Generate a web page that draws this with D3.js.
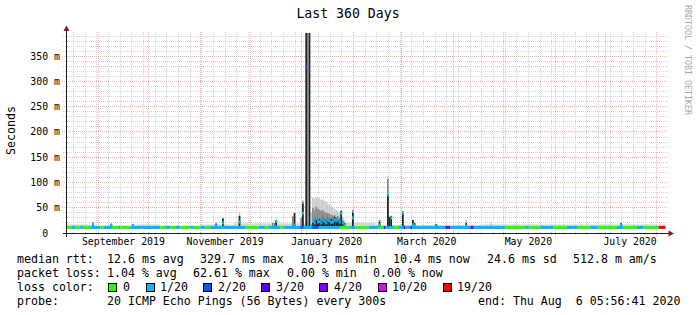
<!DOCTYPE html>
<html><head><meta charset="utf-8">
<script src="https://cdn.jsdelivr.net/npm/d3@7/dist/d3.min.js"></script>
<style>
html,body{margin:0;padding:0;background:#fff;}
svg{display:block;}
text{font-family:"DejaVu Sans Mono","Liberation Mono",monospace;white-space:pre;fill:#000;}
</style></head><body>
<svg id="chart" width="697" height="315" xml:space="preserve"></svg>
<script>
// ---------------- data ----------------
const chartTitle = "Last 360 Days";
const unitLabel = "Seconds";
const watermark = "RRDTOOL / TOBI OETIKER";
const startTime = new Date(2019, 7, 13, 4, 0, 0);
const endTime = new Date(2020, 7, 7, 4, 0, 0);
const yMaxMs = 396;
const yLabelValuesMs = [0, 50, 100, 150, 200, 250, 300, 350];
const yLabelTexts = ["0  ", "50 m", "100 m", "150 m", "200 m", "250 m", "300 m", "350 m"];
const yMinorStepMs = 10;
const lossLabels = ["0", "1/20", "2/20", "3/20", "4/20", "10/20", "19/20"];
const lossColors = ["#26ff00", "#00b8ff", "#0059ff", "#5e00ff", "#7e00ff", "#dd00ff", "#ff0000"];
const baselineMedianMs = 11;
// [startDay, lossIndex]
const lossSegments = [
  [0,0],[3,1],[5,0],[8,1],[10,0],[14,1],[20,0],[22,1],[27,0],[31,1],[32,0],[38,1],
  [56,0],[59,1],[62,0],[65,1],[68,0],[74,1],[76,0],[80,1],[83,0],[86,1],[107,0],
  [115,1],[119,0],[121,1],[128,0],[130,1],[140,2],[142,1],[147,2],[151,1],[164,0],
  [170,1],[173,0],[181,1],[187,0],[190,3],[191,1],[196,0],[199,1],[202,3],[203,1],
  [206,4],[207,1],[227,4],[230,1],[242,3],[244,1],[263,0],[275,1],[277,0],[284,1],
  [292,0],[300,1],[306,0],[314,1],[318,0],[330,1],[334,0],[342,1],[346,0],[355,6]
];
const dataEndDay = 359;
// baseline smoke [startDay, endDay, topMs]
const baseSmoke = [
  [0,14,17],[14,38,15],[38,56,17],[56,80,15],[80,100,17],[100,147,19],
  [147,166,16],[166,185,20],[185,250,16],[250,300,17],[300,359,17]
];
// spikes [day, medianMs, darkTopMs, midTopMs, lightTopMs, lossIndex]
const spikes = [
  [15,18,20,0,0,1],[26,16,18,0,0,1],[39,15,17,0,0,1],[71,11,14,0,0,0],
  [89,14,19,0,0,1],[93,20,28,30,0,1],[103,22,34,0,40,1],
  [123,null,0,20,0,1],[124,13,0,20,0,1],[125,23,26,0,0,1],
  [135,null,0,33,0,1],[136,16,40,0,0,1],
  [140,null,0,30,0,1],[141,39,58,64,0,1],
  [143,329,396,0,0,2],[144,null,0,396,0,1],[145,null,396,0,0,1],
  [146,14,0,0,40,1],[147,23,26,50,70,1],[148,20,24,46,68,1],[149,28,30,52,70,1],
  [150,22,26,48,70,1],[151,23,28,46,68,1],[152,20,24,44,66,1],[153,26,30,45,66,1],
  [154,23,27,42,64,1],[155,20,25,40,62,1],[156,26,30,40,58,1],[157,24,28,38,56,1],
  [158,21,28,36,54,1],[159,22,26,34,50,1],[160,26,32,36,48,1],[161,24,28,32,46,1],
  [162,27,30,34,44,1],[163,22,26,30,40,1],[164,39,44,0,46,1],[165,20,24,0,32,1],
  [166,16,20,0,26,1],
  [171,30,40,46,0,1],[187,16,22,26,0,1],
  [192,76,74,106,112,1],[193,null,32,0,0,1],[194,30,34,0,0,1],
  [201,40,40,0,44,1],[207,16,26,0,0,1],[208,14,20,0,0,1],
  [221,14,18,0,0,1],[239,14,20,0,26,1],[254,12,0,0,20,1],[332,16,20,0,0,1]
];
const statsMedian = ["median rtt:", "12.6 ms avg", "329.7 ms max", "10.3 ms min", "10.4 ms now", "24.6 ms sd", "512.8 m am/s"];
const statsLoss = ["packet loss:", "1.04 % avg", "62.61 % max", "0.00 % min", "0.00 % now"];
const lossColorTitle = "loss color:";
const probeRow = ["probe:", "20 ICMP Echo Pings (56 Bytes) every 300s", "end: Thu Aug  6 05:56:41 2020"];

// ---------------- layout ----------------
const L = 67, R = 667, T = 33, B = 233;
const svg = d3.select("#chart");
const x = d3.scaleTime().domain([startTime, endTime]).range([L, R]);
const y = d3.scaleLinear().domain([0, yMaxMs]).range([B, T]).clamp(true);
const dayDate = d => new Date(+startTime + d * 864e5);
const xd = d => x(dayDate(d));
const snap = v => Math.floor(v) + 0.5;

const minorCol = "#d4d4d4", majorCol = "#ebb2b2";
const grid = svg.append("g");
// horizontal grid
const minorY = d3.range(0, yMaxMs, yMinorStepMs).filter(v => !yLabelValuesMs.includes(v));
grid.selectAll(".hmin").data(minorY).join("line")
  .attr("x1", 63).attr("x2", 668).attr("y1", d => snap(y(d))).attr("y2", d => snap(y(d)))
  .attr("stroke", minorCol).attr("stroke-dasharray", "1,1");
// vertical minor (weekly)
const weeks = d3.timeSaturday.range(startTime, endTime);
grid.selectAll(".vmin").data(weeks).join("line")
  .attr("x1", d => snap(x(d))).attr("x2", d => snap(x(d))).attr("y1", 32).attr("y2", 236)
  .attr("stroke", minorCol).attr("stroke-dasharray", "1,1");
// major
grid.selectAll(".hmaj").data(yLabelValuesMs.filter(v => v > 0)).join("line")
  .attr("x1", 62).attr("x2", 668).attr("y1", d => snap(y(d))).attr("y2", d => snap(y(d)))
  .attr("stroke", majorCol).attr("stroke-dasharray", "1,1");
const months = d3.timeMonth.range(startTime, endTime);
grid.selectAll(".vmaj").data(months).join("line")
  .attr("x1", d => snap(x(d))).attr("x2", d => snap(x(d))).attr("y1", 32).attr("y2", 237)
  .attr("stroke", majorCol).attr("stroke-dasharray", "1,1");

// baseline smoke
const plot = svg.append("g");
plot.selectAll(".bs").data(baseSmoke).join("rect")
  .attr("x", d => xd(d[0])).attr("width", d => xd(d[1]) - xd(d[0]))
  .attr("y", d => y(d[2])).attr("height", d => y(9) - y(d[2]))
  .attr("fill", "#d6d6d6");
// spike smoke layers
const bw = d => Math.max(1.7, xd(d[0] + 1) - xd(d[0]));
[[4, "#cccccc"], [3, "#8a8a8a"], [2, "#262626"]].forEach(([k, col]) => {
  plot.selectAll(".s" + k).data(spikes.filter(d => d[k] > 0)).join("rect")
    .attr("x", d => xd(d[0])).attr("width", bw)
    .attr("y", d => y(d[k])).attr("height", d => y(12.5) - y(d[k]))
    .attr("fill", col);
});
// baseline median line coloured by loss
const segs = lossSegments.map((s, i) => [s[0], i + 1 < lossSegments.length ? lossSegments[i + 1][0] : dataEndDay, s[1]]);
plot.selectAll(".med").data(segs).join("rect")
  .attr("x", d => xd(d[0])).attr("width", d => xd(d[1]) - xd(d[0]))
  .attr("y", y(baselineMedianMs) - 1.5).attr("height", 3)
  .attr("fill", d => lossColors[d[2]]);
// spike medians
plot.selectAll(".smed").data(spikes.filter(d => d[1] !== null)).join("rect")
  .attr("x", d => xd(d[0])).attr("width", d => Math.max(2, bw(d)))
  .attr("y", d => y(d[1]) - 1.5).attr("height", 3)
  .attr("fill", d => lossColors[d[5]]);

// axes
const axisCol = "#1f1f1f", arrowCol = "#8b1a1a";
svg.append("line").attr("x1", 63).attr("x2", 670).attr("y1", 233.5).attr("y2", 233.5).attr("stroke", axisCol);
svg.append("line").attr("x1", 66.5).attr("x2", 66.5).attr("y1", 237).attr("y2", 30).attr("stroke", axisCol);
svg.append("path").attr("d", "M63.5,31L69.5,31L66.5,25.5Z").attr("fill", arrowCol);
svg.append("path").attr("d", "M668.5,230.5L668.5,236.5L674,233.5Z").attr("fill", arrowCol);

// y labels
svg.selectAll(".yl").data(yLabelValuesMs).join("text")
  .attr("x", 60).attr("y", d => snap(y(d)) + 3.6).attr("text-anchor", "end")
  .style("font-size", "9.85px").text((d, i) => yLabelTexts[i]);
// x labels: every second month, centred mid-month
const labelMonths = d3.timeMonth.every(2).range(startTime, endTime);
svg.selectAll(".xl").data(labelMonths).join("text")
  .attr("x", d => x(d3.timeDay.offset(d, 15))).attr("y", 245).attr("text-anchor", "middle")
  .style("font-size", "9.85px").text(d => d3.timeFormat("%B %Y")(d));

// title, unit, watermark
svg.append("text").attr("x", 348).attr("y", 18).attr("text-anchor", "middle")
  .style("font-size", "13.2px").text(chartTitle);
svg.append("text").attr("transform", "translate(15,130.5) rotate(-90)").attr("text-anchor", "middle")
  .style("font-size", "11.6px").text(unitLabel);
svg.append("text").attr("transform", "translate(685,5) rotate(90)")
  .style("font-size", "8.3px").style("fill", "#a8a8a8").text(watermark);

// legend
const lg = svg.append("g").style("font-size", "11.6px");
const row = (texts, xs, yy) => texts.forEach((t, i) => lg.append("text").attr("x", xs[i]).attr("y", yy).text(t));
row(statsMedian, [17, 107, 200, 300, 393, 487, 573], 263);
row(statsLoss, [17, 107, 193, 287, 373], 277);
lg.append("text").attr("x", 17).attr("y", 291).text(lossColorTitle);
const boxX = [108, 146, 203, 261, 319, 378, 443];
const labX = [123, 160, 218, 276, 334, 392, 457];
lossLabels.forEach((t, i) => {
  lg.append("rect").attr("x", boxX[i] + 0.5).attr("y", 283.5).attr("width", 8).attr("height", 8)
    .attr("fill", lossColors[i]).attr("stroke", "#000");
  lg.append("text").attr("x", labX[i]).attr("y", 291).text(t);
});
row(probeRow, [17, 107, 478], 305);
</script>
</body></html>
